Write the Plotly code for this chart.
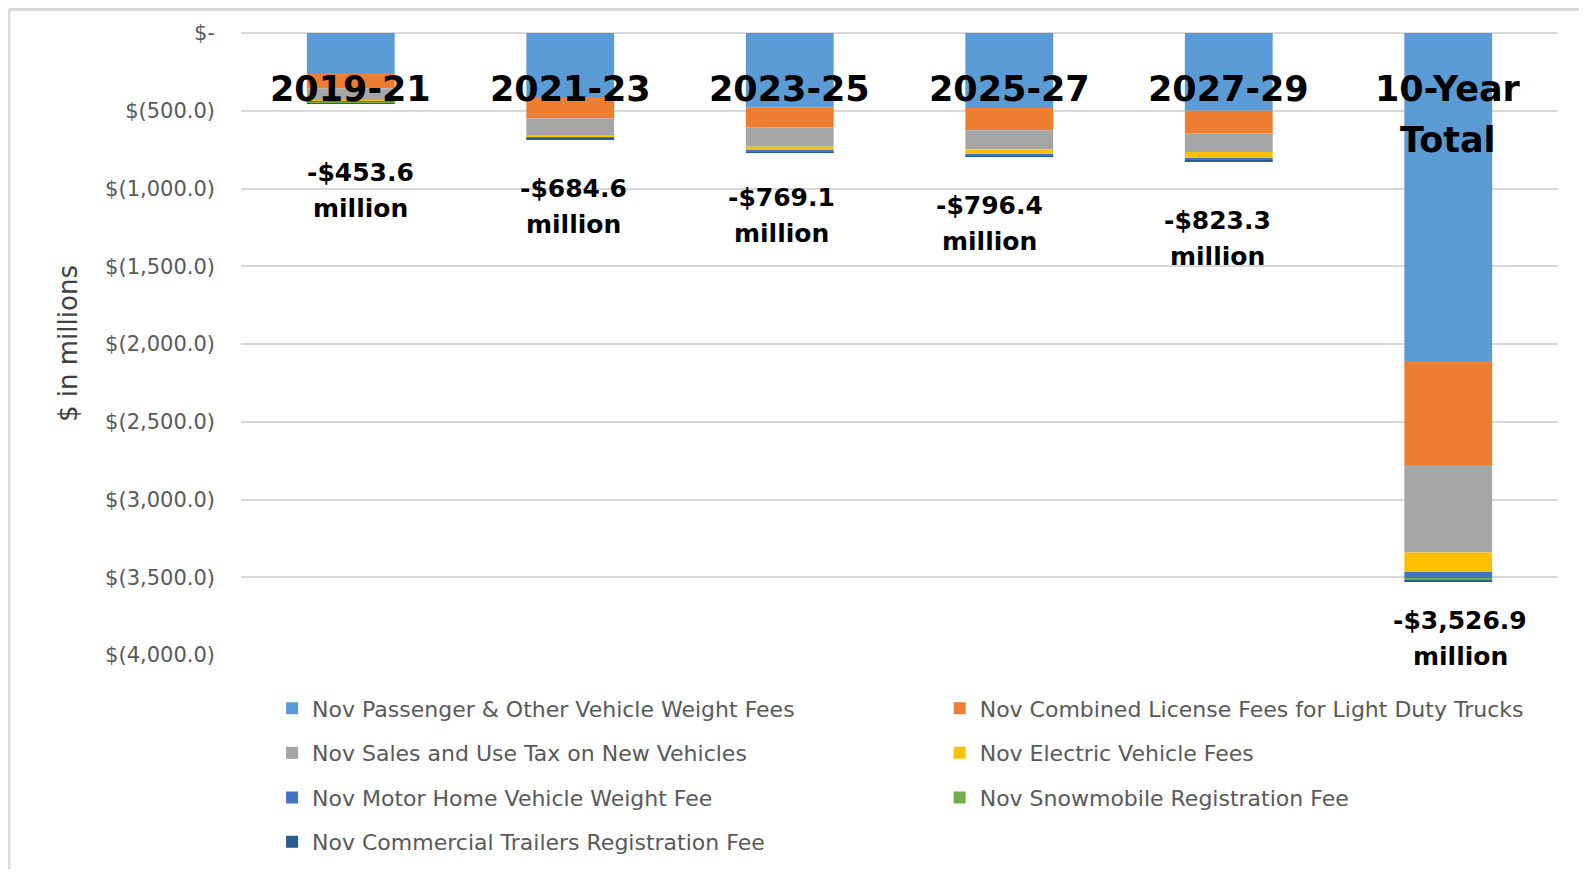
import plotly.graph_objects as go

categories = ["2019-21", "2021-23", "2023-25", "2025-27", "2027-29", "10-Year Total"]

series_names = [
    "Nov Passenger & Other Vehicle Weight Fees",
    "Nov Combined License Fees for Light Duty Trucks",
    "Nov Sales and Use Tax on New Vehicles",
    "Nov Electric Vehicle Fees",
    "Nov Motor Home Vehicle Weight Fee",
    "Nov Snowmobile Registration Fee",
    "Nov Commercial Trailers Registration Fee",
]

passenger = [-257.0, -411.0, -477.0, -483.0, -500.0, -2110.0]
light_trucks = [-98.0, -139.0, -131.0, -142.0, -144.0, -668.0]
sales_tax = [-80.0, -109.0, -124.0, -124.0, -122.0, -563.0]
electric = [-8.0, -11.0, -26.0, -32.0, -43.0, -125.0]
motor_home = [-7.0, -10.0, -8.0, -10.0, -9.0, -44.0]
snowmobile = [-1.6, -1.6, -1.6, -1.9, -1.8, -8.0]
trailers = [-2.0, -3.0, -1.5, -3.5, -3.5, -8.9]

totals = [-453.6, -684.6, -769.1, -796.4, -823.3, -3526.9]
total_labels = ["-$453.6", "-$684.6", "-$769.1", "-$796.4", "-$823.3", "-$3,526.9"]

tick_vals = [0, -500, -1000, -1500, -2000, -2500, -3000, -3500, -4000]
tick_text = ["$-", "$(500.0)", "$(1,000.0)", "$(1,500.0)", "$(2,000.0)",
             "$(2,500.0)", "$(3,000.0)", "$(3,500.0)", "$(4,000.0)"]

series_values = [passenger, light_trucks, sales_tax, electric, motor_home, snowmobile, trailers]
colors = ["#5B9BD5", "#ED7D31", "#A5A5A5", "#FFC000", "#4472C4", "#70AD47", "#255E91"]

# legend grid placement (paper coords): two columns, four rows
legend_cols = [0.0236, 0.5305]
legend_rows = [-0.0860, -0.1576, -0.2293, -0.3006]

# label placement offsets (px): x shift and y shift of value labels
label_dx = [10, 3, -8, -20, -11, 12]
label_dy = [-87, -67, -63, -67, -77, -57]

legend_font = dict(family="DejaVu Sans", size=22, color="#595959")

fig = go.Figure()
legend_layouts = {}
for i, (name, vals, col) in enumerate(zip(series_names, series_values, colors)):
    lid = "legend" if i == 0 else f"legend{i + 1}"
    fig.add_trace(go.Bar(
        x=categories, y=vals, name=name, marker=dict(color=col, line=dict(width=0)),
        legend=lid, hoverinfo="skip",
    ))
    legend_layouts[lid] = dict(
        orientation="h", x=legend_cols[i % 2], y=legend_rows[i // 2],
        xanchor="left", yanchor="middle", font=legend_font,
        bgcolor="rgba(0,0,0,0)",
    )

annotations = []
bold = dict(family="DejaVu Sans", size=25, color="#000000", weight="bold")
for cat, tot, lab, dx, dy in zip(categories, totals, total_labels, label_dx, label_dy):
    annotations.append(dict(x=cat, y=tot, xref="x", yref="y", text=lab, showarrow=False,
                            xshift=dx, yshift=dy + 18, yanchor="middle", font=bold))
    annotations.append(dict(x=cat, y=tot, xref="x", yref="y", text="million", showarrow=False,
                            xshift=dx, yshift=dy - 18, yanchor="middle", font=bold))

cat_font = dict(family="DejaVu Sans", size=35, color="#000000", weight="bold")
for cat in categories:
    parts = cat.split(" ")
    for i, p in enumerate(parts):
        annotations.append(dict(x=cat, y=1, xref="x", yref="paper", text=p, showarrow=False,
                                yanchor="middle", yshift=-56 - 51 * i, font=cat_font))

annotations.append(dict(x=0, y=0.5, xref="paper", yref="paper", text="$ in millions",
                        textangle=-90, showarrow=False, xshift=-173, xanchor="center",
                        yanchor="middle",
                        font=dict(family="DejaVu Sans", size=26, color="#404040")))

fig.update_layout(
    width=1571, height=861,
    margin=dict(l=233, r=21, t=25, b=214, autoexpand=False),
    paper_bgcolor="#ffffff", plot_bgcolor="#ffffff",
    barmode="relative", bargap=0.6,
    showlegend=True,
    annotations=annotations,
    xaxis=dict(showticklabels=False, showgrid=False, zeroline=False, showline=False, ticks=""),
    yaxis=dict(range=[-4000, 0], tickvals=tick_vals, ticktext=tick_text,
               showgrid=True, gridcolor="#D9D9D9", gridwidth=2,
               zeroline=True, zerolinecolor="#D9D9D9", zerolinewidth=2,
               showline=False, ticks="", ticklabelstandoff=25,
               tickfont=dict(family="DejaVu Sans", size=21, color="#595959")),
    shapes=[
        dict(type="line", xref="paper", yref="paper", x0=-0.1762, x1=-0.1762,
             y0=1.0378, y1=-0.35, line=dict(color="#D9D9D9", width=3)),
        dict(type="line", xref="paper", yref="paper", x0=-0.1762, x1=1.03,
             y0=1.0378, y1=1.0378, line=dict(color="#D9D9D9", width=3)),
    ],
    **legend_layouts,
)

fig.write_html("out.html")
